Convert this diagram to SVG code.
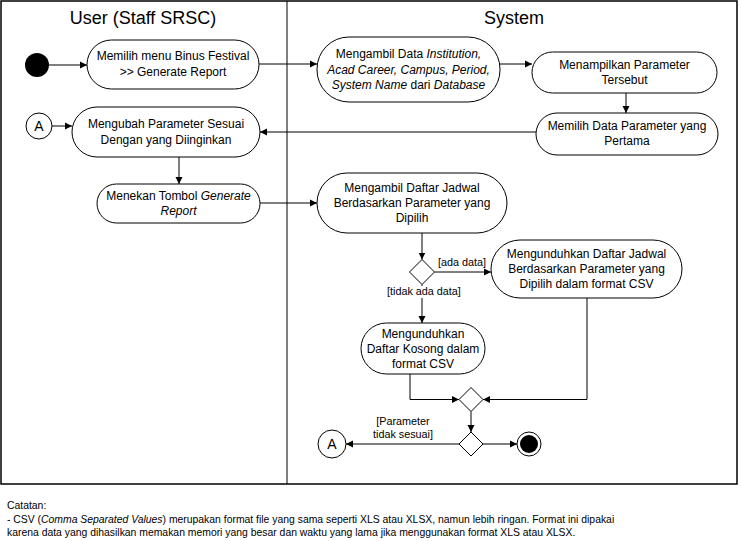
<svg xmlns="http://www.w3.org/2000/svg" width="741" height="541" viewBox="0 0 741 541">
<style>
text{font-family:"Liberation Sans",Arial,sans-serif;font-size:11px;fill:#000}
.t{text-anchor:middle;font-size:12px}
.lbl{font-size:10.8px}
.note{font-size:10.4px}
.title{font-size:18px;text-anchor:middle}
.act{fill:#fff;stroke:#000;stroke-width:1}
.c{fill:none;stroke:#000;stroke-width:1}
.i{font-style:italic}
</style>
<defs>
<marker id="ah" markerWidth="8" markerHeight="8" refX="7" refY="4" orient="auto" markerUnits="userSpaceOnUse">
<path d="M0,0.5 L7,4 L0,7.5 Z" fill="#000"/>
</marker>
</defs>
<rect width="741" height="541" fill="#fff"/>
<g id="lanes">
<rect x="1" y="1" width="736" height="483" fill="none" stroke="#000" stroke-width="1.5"/>
<line x1="287" y1="1" x2="287" y2="484" stroke="#000" stroke-width="1"/>
<text class="title" x="143" y="24">User (Staff SRSC)</text>
<text class="title" x="514" y="24">System</text>
</g>
<g id="connectors">
<line class="c" x1="49" y1="65" x2="87" y2="65" marker-end="url(#ah)"/>
<line class="c" x1="52" y1="126" x2="72" y2="126" marker-end="url(#ah)"/>
<line class="c" x1="259" y1="64" x2="317" y2="64" marker-end="url(#ah)"/>
<line class="c" x1="500" y1="64" x2="532" y2="64" marker-end="url(#ah)"/>
<line class="c" x1="626" y1="93" x2="626" y2="113" marker-end="url(#ah)"/>
<line class="c" x1="536" y1="132" x2="260" y2="132" marker-end="url(#ah)"/>
<line class="c" x1="179" y1="157" x2="179" y2="184" marker-end="url(#ah)"/>
<line class="c" x1="260" y1="203" x2="317" y2="203" marker-end="url(#ah)"/>
<line class="c" x1="422" y1="233" x2="422" y2="259.5" marker-end="url(#ah)"/>
<line class="c" x1="434.5" y1="272" x2="491" y2="272" marker-end="url(#ah)"/>
<line class="c" x1="422" y1="284.5" x2="422" y2="323" marker-end="url(#ah)"/>
<polyline class="c" points="410,374 410,399.5 459,399.5" marker-end="url(#ah)"/>
<polyline class="c" points="587,298 587,399.5 483,399.5" marker-end="url(#ah)"/>
<line class="c" x1="471" y1="411.5" x2="471" y2="432" marker-end="url(#ah)"/>
<line class="c" x1="459" y1="444" x2="346" y2="444" marker-end="url(#ah)"/>
<line class="c" x1="483" y1="444" x2="517" y2="444" marker-end="url(#ah)"/>
<text class="lbl" x="438" y="266">[ada data]</text>
<rect x="386" y="286" width="76" height="12" fill="#fff"/>
<text class="lbl" x="387" y="295">[tidak ada data]</text>
<text class="lbl" x="403" y="425" text-anchor="middle">[Parameter</text>
<text class="lbl" x="403" y="438" text-anchor="middle">tidak sesuai]</text>
</g>
<g id="start"><circle cx="37" cy="65" r="12" fill="#000"/></g>
<g id="n1">
<rect class="act" x="87" y="40" width="172" height="49" rx="24.5"/>
<text class="t" x="173" y="60">Memilih menu Binus Festival</text>
<text class="t" x="173" y="76">&gt;&gt; Generate Report</text>
</g>
<g id="a1">
<circle class="act" cx="39" cy="126" r="13"/>
<text x="39" y="131" style="font-size:14px;text-anchor:middle">A</text>
</g>
<g id="n2">
<rect class="act" x="72" y="107" width="188" height="50" rx="25"/>
<text class="t" x="166" y="128">Mengubah Parameter Sesuai</text>
<text class="t" x="166" y="144">Dengan yang Diinginkan</text>
</g>
<g id="n3">
<rect class="act" x="317" y="37" width="183" height="65" rx="32"/>
<text class="t" x="408.5" y="58">Mengambil Data <tspan class="i">Institution,</tspan></text>
<text class="t i" x="408.5" y="74">Acad Career, Campus, Period,</text>
<text class="t" x="408.5" y="89"><tspan class="i">System Name</tspan> dari <tspan class="i">Database</tspan></text>
</g>
<g id="n4">
<rect class="act" x="532" y="52" width="185" height="41" rx="20.5"/>
<text class="t" x="624.5" y="69">Menampilkan Parameter</text>
<text class="t" x="624.5" y="84">Tersebut</text>
</g>
<g id="n5">
<rect class="act" x="536" y="113" width="182" height="42" rx="21"/>
<text class="t" x="627" y="130">Memilih Data Parameter yang</text>
<text class="t" x="627" y="145">Pertama</text>
</g>
<g id="n6">
<rect class="act" x="97" y="184" width="163" height="39" rx="19.5"/>
<text class="t" x="178.5" y="200">Menekan Tombol <tspan class="i">Generate</tspan></text>
<text class="t i" x="178.5" y="215">Report</text>
</g>
<g id="n7">
<rect class="act" x="317" y="173" width="190" height="60" rx="30"/>
<text class="t" x="412" y="192">Mengambil Daftar Jadwal</text>
<text class="t" x="412" y="207">Berdasarkan Parameter yang</text>
<text class="t" x="412" y="222">Dipilih</text>
</g>
<g id="d1"><polygon class="act" points="422,259.5 434.5,272 422,284.5 409.5,272"/></g>
<g id="n8">
<rect class="act" x="491" y="240" width="191" height="58" rx="29"/>
<text class="t" x="586.5" y="258">Mengunduhkan Daftar Jadwal</text>
<text class="t" x="586.5" y="273">Berdasarkan Parameter yang</text>
<text class="t" x="586.5" y="288">Dipilih dalam format CSV</text>
</g>
<g id="n9">
<rect class="act" x="361" y="323" width="124" height="51" rx="25.5"/>
<text class="t" x="423" y="338">Mengunduhkan</text>
<text class="t" x="423" y="353">Daftar Kosong dalam</text>
<text class="t" x="423" y="368">format CSV</text>
</g>
<g id="d2"><polygon class="act" points="471,387.5 483,399.5 471,411.5 459,399.5"/></g>
<g id="d3"><polygon class="act" points="471,432 483,444 471,456 459,444"/></g>
<g id="a2">
<circle class="act" cx="332" cy="444" r="14"/>
<text x="332" y="449" style="font-size:14px;text-anchor:middle">A</text>
</g>
<g id="end">
<circle class="act" cx="529" cy="444" r="12"/>
<circle cx="529" cy="444" r="9" fill="#000"/>
</g>
<g id="note">
<text class="note" x="7" y="509">Catatan:</text>
<text class="note" x="7" y="523">- CSV (<tspan class="i">Comma Separated Values</tspan>) merupakan format file yang sama seperti XLS atau XLSX, namun lebih ringan. Format ini dipakai</text>
<text class="note" x="7" y="536">karena data yang dihasilkan memakan memori yang besar dan waktu yang lama jika menggunakan format XLS atau XLSX.</text>
</g>
</svg>
